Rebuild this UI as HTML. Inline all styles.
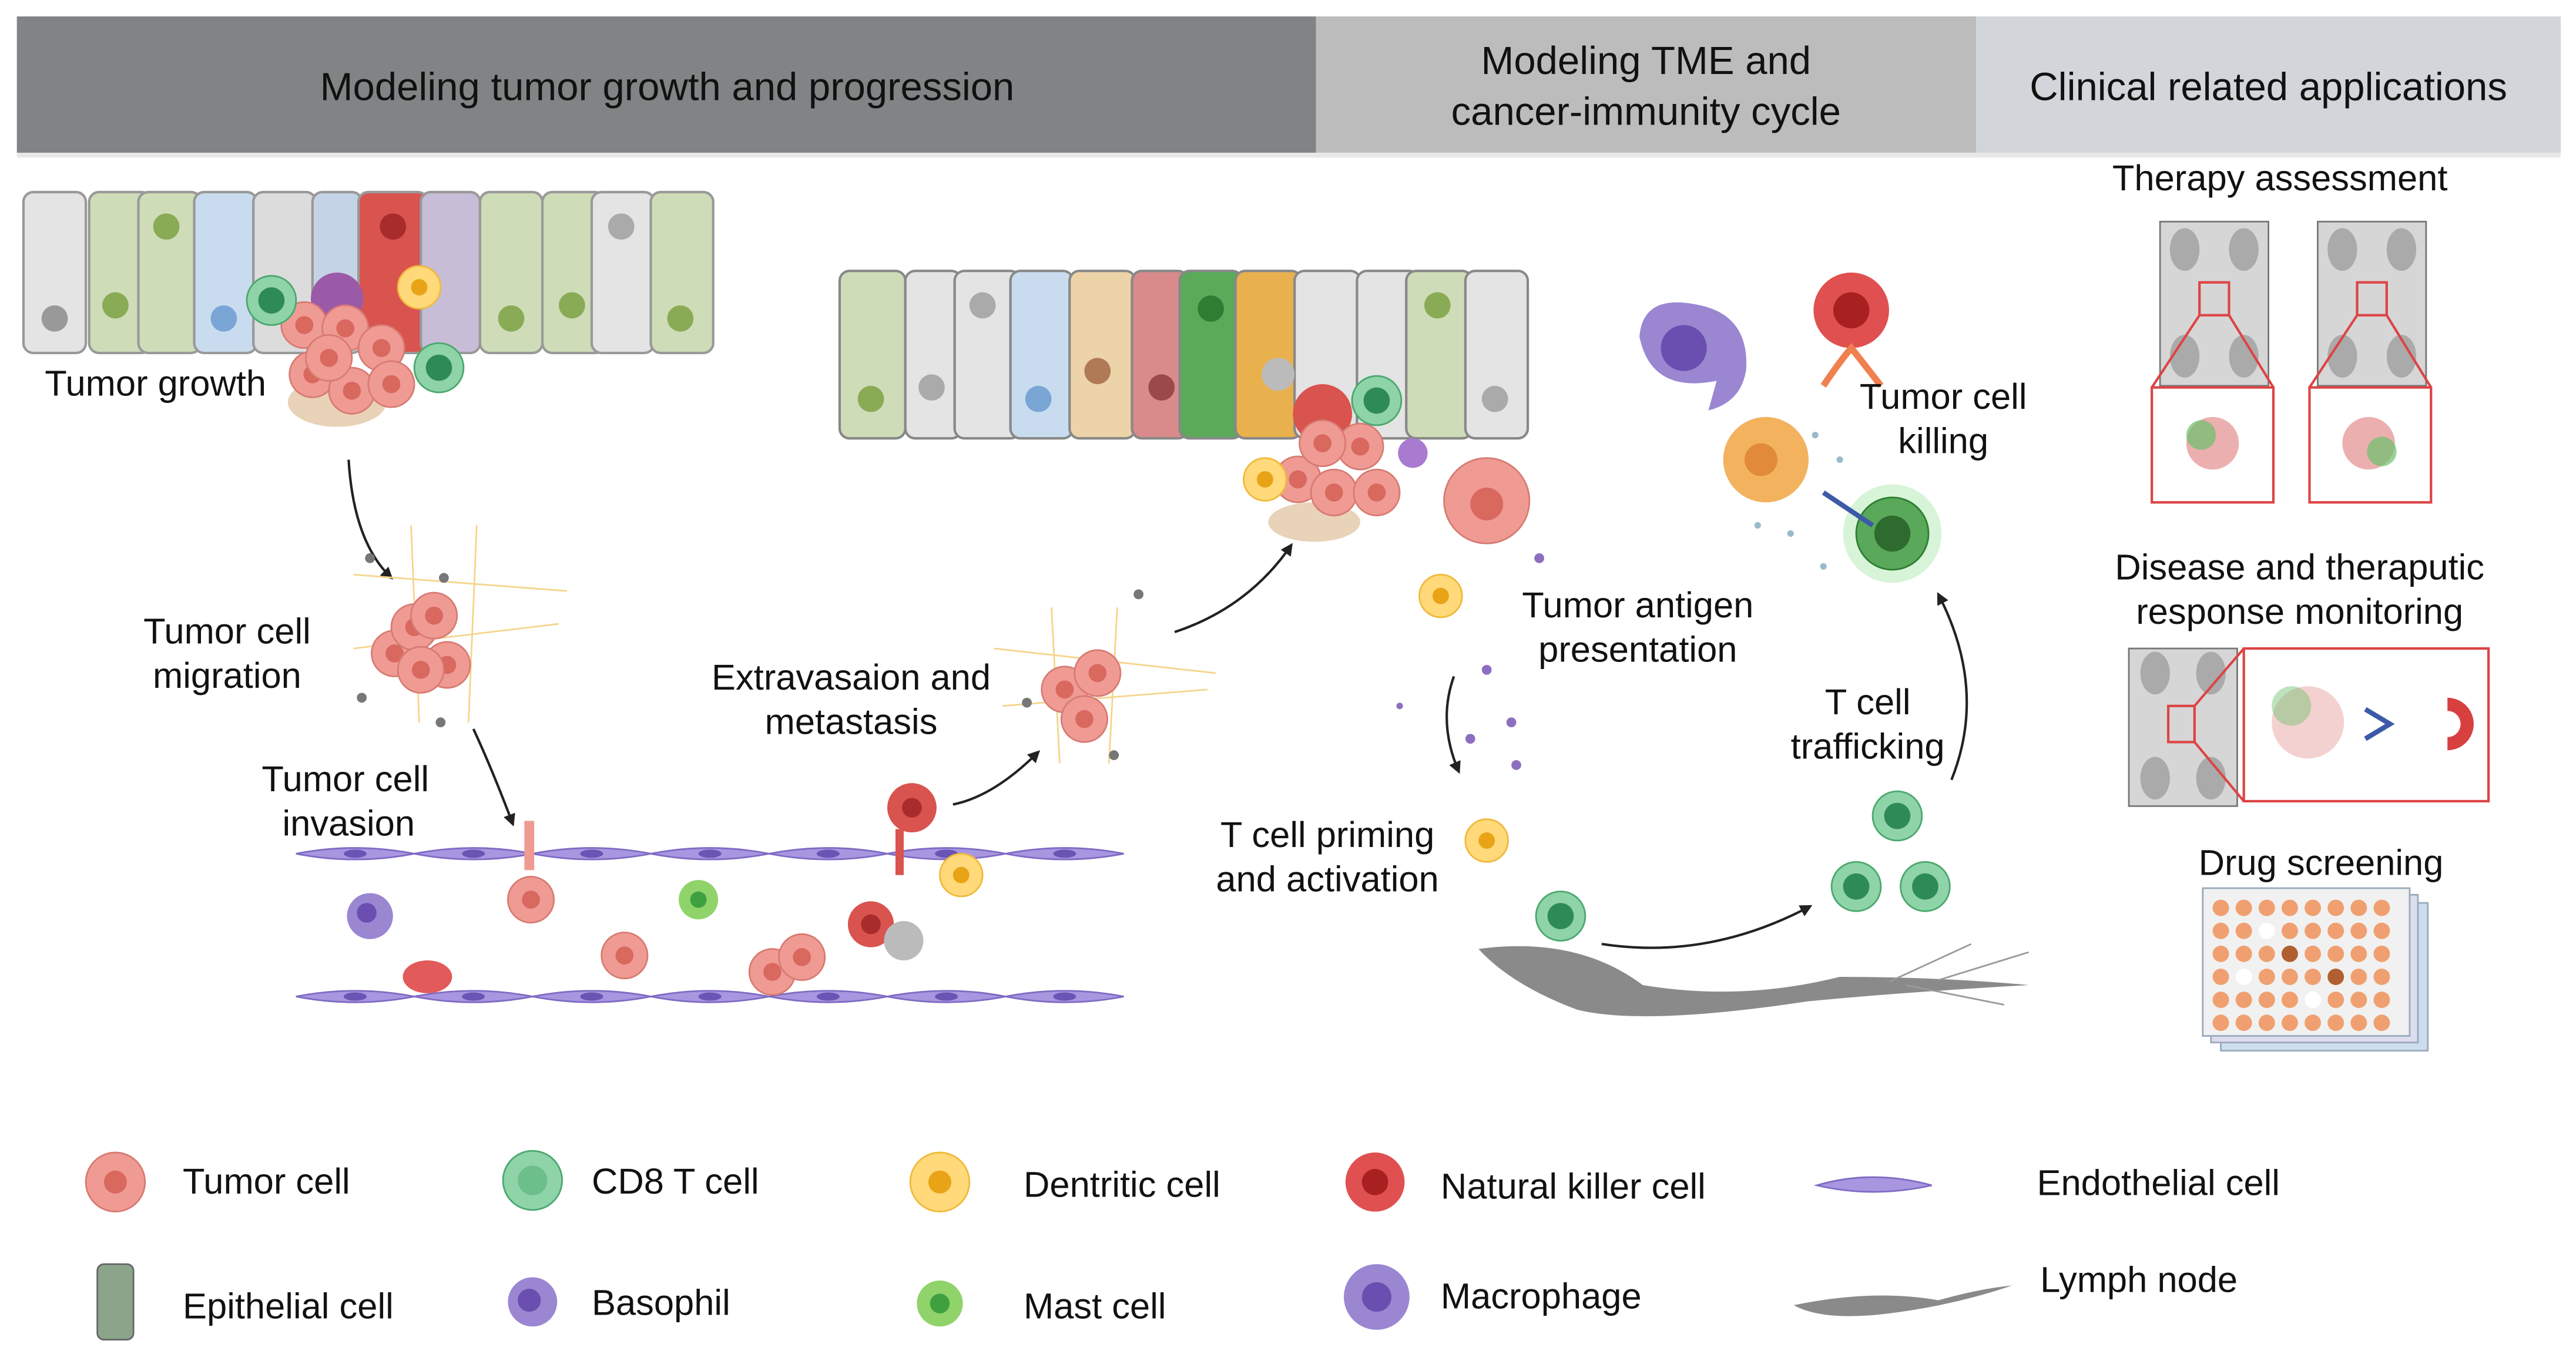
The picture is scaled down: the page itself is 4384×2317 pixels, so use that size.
<!DOCTYPE html>
<html><head><meta charset="utf-8"><style>
html,body{margin:0;padding:0;background:#fff}
svg{display:block}
text{font-family:"Liberation Sans",sans-serif;fill:#111}
</style></head><body>
<svg width="4384" height="2317" viewBox="0 0 1568 829" xmlns="http://www.w3.org/2000/svg">
<defs>
<marker id="ah" viewBox="0 0 10 10" refX="8" refY="5" markerWidth="5" markerHeight="5" orient="auto"><path d="M0,0 L10,5 L0,10 z" fill="#222"/></marker>
<g id="tum"><circle r="14" fill="#ef9b94" stroke="#d77a72" stroke-width="1"/><circle r="5.5" fill="#d9685f"/></g>
<g id="t8"><circle r="15" fill="#8fd3a8" stroke="#4aa86e"/><circle r="8" fill="#2e8b57"/></g>
<g id="dc"><circle r="13" fill="#ffd97a" stroke="#f0b93a"/><circle r="5" fill="#e8a317"/></g>
<g id="endo"><path d="M-36,0 Q0,-7 36,0 Q0,7 -36,0z" fill="#a996e0" stroke="#7e6bc4"/><ellipse rx="7" ry="2.5" fill="#6a55b5"/></g>
</defs>
<!-- header -->
<rect x="10" y="12" width="1549" height="84" fill="#e8e8e8"/>
<rect x="10" y="10" width="791" height="83" fill="#808485"/>
<rect x="801" y="10" width="402" height="83" fill="#bcbcbc"/>
<rect x="1203" y="10" width="356" height="83" fill="#d2d5d9"/>
<text x="406" y="61" font-size="24" text-anchor="middle">Modeling tumor growth and progression</text>
<text x="1002" y="45" font-size="24" text-anchor="middle">Modeling TME and</text>
<text x="1002" y="76" font-size="24" text-anchor="middle">cancer-immunity cycle</text>
<text x="1381" y="61" font-size="24" text-anchor="middle">Clinical related applications</text>

<!-- epithelium left -->
<g stroke="#999" stroke-width="1.5">
<rect x="14" y="117" width="38" height="98" rx="6" fill="#e4e4e4"/>
<rect x="54" y="117" width="38" height="98" rx="6" fill="#cfdcb8"/>
<rect x="84" y="117" width="38" height="98" rx="6" fill="#cfdcb8"/>
<rect x="118" y="117" width="38" height="98" rx="6" fill="#c9dcef"/>
<rect x="154" y="117" width="38" height="98" rx="6" fill="#dcdcdc"/>
<rect x="190" y="117" width="30" height="98" rx="6" fill="#c5d3e6"/>
<rect x="218" y="117" width="42" height="98" rx="6" fill="#d9534f"/>
<rect x="256" y="117" width="36" height="98" rx="6" fill="#c8bdd6"/>
<rect x="292" y="117" width="38" height="98" rx="6" fill="#cfdcb8"/>
<rect x="330" y="117" width="38" height="98" rx="6" fill="#cfdcb8"/>
<rect x="360" y="117" width="38" height="98" rx="6" fill="#e4e4e4"/>
<rect x="396" y="117" width="38" height="98" rx="6" fill="#cfdcb8"/>
</g>
<g fill="#999"><circle cx="33" cy="194" r="8"/><circle cx="70" cy="186" r="8" fill="#8aab55"/><circle cx="101" cy="138" r="8" fill="#8aab55"/><circle cx="136" cy="194" r="8" fill="#7aa6d6"/><circle cx="239" cy="138" r="8" fill="#a82c2c"/><circle cx="311" cy="194" r="8" fill="#8aab55"/><circle cx="348" cy="186" r="8" fill="#8aab55"/><circle cx="378" cy="138" r="8" fill="#aaa"/><circle cx="414" cy="194" r="8" fill="#8aab55"/></g>
<circle cx="205" cy="182" r="16" fill="#9b5aa8"/>
<ellipse cx="205" cy="245" rx="30" ry="15" fill="#e8d2b8"/>
<g><use href="#tum" x="185" y="198"/><use href="#tum" x="210" y="200"/><use href="#tum" x="232" y="212"/><use href="#tum" x="190" y="228"/><use href="#tum" x="214" y="238"/><use href="#tum" x="238" y="234"/><use href="#tum" x="200" y="218"/><use href="#dc" x="255" y="175"/><use href="#t8" x="267" y="224"/><use href="#t8" x="165" y="183"/></g>
<text x="27" y="241" font-size="22">Tumor growth</text>

<!-- left flow -->
<path d="M212,280 Q215,330 238,352" fill="none" stroke="#222" stroke-width="1.5" marker-end="url(#ah)"/>
<g stroke="#f5d58c" stroke-width="1" fill="none"><path d="M215,350 L345,360 M215,395 L340,380 M250,320 L255,440 M290,320 L285,440"/></g>
<use href="#tum" x="240" y="398"/><use href="#tum" x="272" y="405"/><use href="#tum" x="252" y="382"/><use href="#tum" x="264" y="375"/><use href="#tum" x="256" y="408"/>
<g fill="#777"><circle cx="225" cy="340" r="3"/><circle cx="270" cy="352" r="3"/><circle cx="220" cy="425" r="3"/><circle cx="268" cy="440" r="3"/></g>
<text x="138" y="392" font-size="22" text-anchor="middle">Tumor cell</text>
<text x="138" y="419" font-size="22" text-anchor="middle">migration</text>
<path d="M288,444 Q300,470 312,502" fill="none" stroke="#222" stroke-width="1.5" marker-end="url(#ah)"/>
<text x="210" y="482" font-size="22" text-anchor="middle">Tumor cell</text>
<text x="212" y="509" font-size="22" text-anchor="middle">invasion</text>

<!-- vessel -->
<g>
<use href="#endo" x="216" y="520"/><use href="#endo" x="288" y="520"/><use href="#endo" x="360" y="520"/><use href="#endo" x="432" y="520"/><use href="#endo" x="504" y="520"/><use href="#endo" x="576" y="520"/><use href="#endo" x="648" y="520"/>
<use href="#endo" x="216" y="607"/><use href="#endo" x="288" y="607"/><use href="#endo" x="360" y="607"/><use href="#endo" x="432" y="607"/><use href="#endo" x="504" y="607"/><use href="#endo" x="576" y="607"/><use href="#endo" x="648" y="607"/>
</g>
<circle cx="225" cy="558" r="14" fill="#9b86d2"/><circle cx="223" cy="556" r="6" fill="#6a4fb0"/><ellipse cx="260" cy="595" rx="15" ry="10" fill="#e25a5a"/>
<circle cx="425" cy="548" r="12" fill="#8fd36a"/><circle cx="425" cy="548" r="5" fill="#3fa03f"/>
<rect x="319" y="500" width="6" height="30" fill="#ef9b94"/>
<use href="#tum" x="323" y="548"/><use href="#tum" x="380" y="582"/><use href="#tum" x="470" y="592"/><use href="#tum" x="488" y="583"/>
<circle cx="530" cy="563" r="14" fill="#d9534f"/><circle cx="530" cy="563" r="6" fill="#a82c2c"/><circle cx="550" cy="573" r="12" fill="#bbb"/>
<circle cx="555" cy="492" r="15" fill="#d9534f"/><circle cx="555" cy="492" r="6" fill="#a82c2c"/><rect x="545" y="505" width="5" height="28" fill="#d9534f"/><use href="#dc" x="585" y="533"/>
<path d="M580,490 Q605,485 632,458" fill="none" stroke="#222" stroke-width="1.5" marker-end="url(#ah)"/>
<text x="518" y="420" font-size="22" text-anchor="middle">Extravasaion and</text>
<text x="518" y="447" font-size="22" text-anchor="middle">metastasis</text>
<g stroke="#f5d58c" stroke-width="1" fill="none"><path d="M605,395 L740,410 M610,430 L735,420 M640,370 L645,465 M680,370 L675,465"/></g>
<use href="#tum" x="648" y="420"/><use href="#tum" x="668" y="410"/><use href="#tum" x="660" y="438"/>
<g fill="#777"><circle cx="693" cy="362" r="3"/><circle cx="625" cy="428" r="3"/><circle cx="678" cy="460" r="3"/></g>
<path d="M715,385 Q760,370 786,332" fill="none" stroke="#222" stroke-width="1.5" marker-end="url(#ah)"/>

<!-- epithelium middle -->
<g stroke="#888" stroke-width="1.5">
<rect x="511" y="165" width="40" height="102" rx="6" fill="#cfdcb8"/>
<rect x="551" y="165" width="34" height="102" rx="6" fill="#e4e4e4"/>
<rect x="581" y="165" width="40" height="102" rx="6" fill="#e4e4e4"/>
<rect x="615" y="165" width="38" height="102" rx="6" fill="#c9dcef"/>
<rect x="651" y="165" width="40" height="102" rx="6" fill="#ecd3a8"/>
<rect x="689" y="165" width="34" height="102" rx="6" fill="#d98b8b"/>
<rect x="718" y="165" width="38" height="102" rx="6" fill="#5aaa5a"/>
<rect x="752" y="165" width="40" height="102" rx="6" fill="#e9b04e"/>
<rect x="788" y="165" width="40" height="102" rx="6" fill="#e4e4e4"/>
<rect x="826" y="165" width="38" height="102" rx="6" fill="#e4e4e4"/>
<rect x="856" y="165" width="40" height="102" rx="6" fill="#cfdcb8"/>
<rect x="892" y="165" width="38" height="102" rx="6" fill="#e4e4e4"/>
</g>
<g><circle cx="530" cy="243" r="8" fill="#8aab55"/><circle cx="567" cy="236" r="8" fill="#aaa"/><circle cx="598" cy="186" r="8" fill="#aaa"/><circle cx="632" cy="243" r="8" fill="#7aa6d6"/><circle cx="668" cy="226" r="8" fill="#b07a57"/><circle cx="707" cy="236" r="8" fill="#9a4a4a"/><circle cx="737" cy="188" r="8" fill="#2e7d32"/><circle cx="875" cy="186" r="8" fill="#8aab55"/><circle cx="910" cy="243" r="8" fill="#aaa"/></g>
<ellipse cx="800" cy="318" rx="28" ry="12" fill="#e8d2b8"/>
<circle cx="805" cy="252" r="18" fill="#d9534f"/>
<use href="#tum" x="790" y="292"/><use href="#tum" x="812" y="300"/><use href="#tum" x="828" y="272"/><use href="#tum" x="838" y="300"/><use href="#tum" x="805" y="270"/><use href="#dc" x="770" y="292"/><use href="#t8" x="838" y="244"/>
<circle cx="778" cy="228" r="10" fill="#bbb"/><circle cx="860" cy="276" r="9" fill="#a87ad0"/>
<circle cx="905" cy="305" r="26" fill="#ef9b94" stroke="#d77a72"/><circle cx="905" cy="307" r="10" fill="#d9685f"/>
<use href="#dc" x="877" y="363"/>
<g fill="#8c6fc0"><circle cx="905" cy="408" r="3"/><circle cx="920" cy="440" r="3"/><circle cx="895" cy="450" r="3"/><circle cx="923" cy="466" r="3"/><circle cx="937" cy="340" r="3"/><circle cx="852" cy="430" r="2"/></g>
<text x="997" y="376" font-size="22" text-anchor="middle">Tumor antigen</text>
<text x="997" y="403" font-size="22" text-anchor="middle">presentation</text>
<path d="M885,412 Q875,440 888,470" fill="none" stroke="#222" stroke-width="1.5" marker-end="url(#ah)"/>
<use href="#dc" x="905" y="512"/>
<text x="808" y="516" font-size="22" text-anchor="middle">T cell priming</text>
<text x="808" y="543" font-size="22" text-anchor="middle">and activation</text>
<use href="#t8" x="950" y="558"/>
<path d="M900,578 Q960,570 1000,600 Q1060,610 1120,595 Q1180,595 1235,600 Q1150,605 1100,610 Q1000,625 960,615 Q920,600 900,578z" fill="#8a8a8a"/>
<g stroke="#999" stroke-width="1" fill="none"><path d="M1150,598 L1200,575 M1180,597 L1235,580 M1160,600 L1220,612"/></g>
<path d="M975,575 Q1040,585 1102,552" fill="none" stroke="#222" stroke-width="1.5" marker-end="url(#ah)"/>
<use href="#t8" x="1130" y="540"/><use href="#t8" x="1172" y="540"/><use href="#t8" x="1155" y="497"/>
<text x="1137" y="435" font-size="22" text-anchor="middle">T cell</text>
<text x="1137" y="462" font-size="22" text-anchor="middle">trafficking</text>
<path d="M1188,475 Q1210,420 1180,362" fill="none" stroke="#222" stroke-width="1.5" marker-end="url(#ah)"/>
<circle cx="1152" cy="325" r="30" fill="#c8f0c8" opacity="0.7"/>
<circle cx="1152" cy="325" r="22" fill="#5aa85a" stroke="#2e7d32"/><circle cx="1152" cy="325" r="11" fill="#2e6b2e"/>
<path d="M998,205 Q1000,180 1030,185 Q1065,190 1063,225 Q1060,245 1040,250 L1045,232 Q1005,240 998,205z" fill="#9b86d2"/>
<circle cx="1025" cy="212" r="14" fill="#6a4fb0"/>
<circle cx="1127" cy="189" r="23" fill="#e05050"/><circle cx="1127" cy="189" r="11" fill="#a82020"/>
<path d="M1110,235 Q1120,220 1127,212 Q1135,222 1145,235" fill="none" stroke="#f08050" stroke-width="4"/>
<circle cx="1075" cy="280" r="26" fill="#f3b25e"/><circle cx="1072" cy="280" r="10" fill="#e08a3a"/>
<g fill="#9bc"><circle cx="1105" cy="265" r="2"/><circle cx="1120" cy="280" r="2"/><circle cx="1090" cy="325" r="2"/><circle cx="1110" cy="345" r="2"/><circle cx="1070" cy="320" r="2"/></g>
<path d="M1110,300 L1140,320" stroke="#3c5aa8" stroke-width="3"/>
<text x="1183" y="249" font-size="22" text-anchor="middle">Tumor cell</text>
<text x="1183" y="276" font-size="22" text-anchor="middle">killing</text>

<!-- right column -->
<text x="1388" y="116" font-size="22" text-anchor="middle">Therapy assessment</text>
<g fill="#d6d6d6" stroke="#777"><rect x="1315" y="135" width="66" height="100"/><rect x="1411" y="135" width="66" height="100"/></g>
<g fill="#aaa"><ellipse cx="1330" cy="152" rx="9" ry="13"/><ellipse cx="1366" cy="152" rx="9" ry="13"/><ellipse cx="1330" cy="217" rx="9" ry="13"/><ellipse cx="1366" cy="217" rx="9" ry="13"/><ellipse cx="1426" cy="152" rx="9" ry="13"/><ellipse cx="1462" cy="152" rx="9" ry="13"/><ellipse cx="1426" cy="217" rx="9" ry="13"/><ellipse cx="1462" cy="217" rx="9" ry="13"/></g>
<g fill="none" stroke="#d44" stroke-width="1.5"><rect x="1310" y="236" width="74" height="70"/><rect x="1406" y="236" width="74" height="70"/><rect x="1339" y="172" width="18" height="20"/><rect x="1435" y="172" width="18" height="20"/><path d="M1339,192 L1310,236 M1357,192 L1384,236 M1435,192 L1406,236 M1453,192 L1480,236"/></g>
<g><circle cx="1347" cy="270" r="16" fill="#e07a7a" opacity="0.6"/><circle cx="1340" cy="265" r="9" fill="#6cc06c" opacity="0.7"/><circle cx="1442" cy="270" r="16" fill="#e07a7a" opacity="0.6"/><circle cx="1450" cy="275" r="9" fill="#6cc06c" opacity="0.7"/></g>
<text x="1400" y="353" font-size="22" text-anchor="middle">Disease and theraputic</text>
<text x="1400" y="380" font-size="22" text-anchor="middle">response monitoring</text>
<rect x="1296" y="395" width="66" height="96" fill="#d6d6d6" stroke="#777"/>
<g fill="#aaa"><ellipse cx="1312" cy="410" rx="9" ry="13"/><ellipse cx="1346" cy="410" rx="9" ry="13"/><ellipse cx="1312" cy="474" rx="9" ry="13"/><ellipse cx="1346" cy="474" rx="9" ry="13"/></g>
<g fill="none" stroke="#d44" stroke-width="1.5"><rect x="1366" y="395" width="149" height="93"/><rect x="1320" y="430" width="16" height="22"/><path d="M1336,430 L1366,395 M1336,452 L1366,488"/></g>
<g><circle cx="1405" cy="440" r="22" fill="#e07a7a" opacity="0.35"/><circle cx="1395" cy="430" r="12" fill="#6cc06c" opacity="0.45"/></g>
<path d="M1490,425 A16,16 0 1 1 1490,457 L1490,449 A8,8 0 1 0 1490,433z" fill="#d84040"/>
<path d="M1440,432 L1455,441 L1440,450" fill="none" stroke="#3c5aa8" stroke-width="3"/>
<text x="1413" y="533" font-size="22" text-anchor="middle">Drug screening</text>
<rect x="1352" y="550" width="126" height="90" fill="#cde" stroke="#9ab"/>
<rect x="1346" y="545" width="126" height="90" fill="#dde" stroke="#9ab"/>
<rect x="1341" y="541" width="126" height="90" fill="#f1f1f1" stroke="#9ab"/>
<g fill="#f0a070">
<circle cx="1352" cy="553" r="5"/><circle cx="1366" cy="553" r="5"/><circle cx="1380" cy="553" r="5"/><circle cx="1394" cy="553" r="5"/><circle cx="1408" cy="553" r="5"/><circle cx="1422" cy="553" r="5"/><circle cx="1436" cy="553" r="5"/><circle cx="1450" cy="553" r="5"/>
<circle cx="1352" cy="567" r="5"/><circle cx="1366" cy="567" r="5"/><circle cx="1380" cy="567" r="5" fill="#fff"/><circle cx="1394" cy="567" r="5"/><circle cx="1408" cy="567" r="5"/><circle cx="1422" cy="567" r="5"/><circle cx="1436" cy="567" r="5"/><circle cx="1450" cy="567" r="5"/>
<circle cx="1352" cy="581" r="5"/><circle cx="1366" cy="581" r="5"/><circle cx="1380" cy="581" r="5"/><circle cx="1394" cy="581" r="5" fill="#b06030"/><circle cx="1408" cy="581" r="5"/><circle cx="1422" cy="581" r="5"/><circle cx="1436" cy="581" r="5"/><circle cx="1450" cy="581" r="5"/>
<circle cx="1352" cy="595" r="5"/><circle cx="1366" cy="595" r="5" fill="#fff"/><circle cx="1380" cy="595" r="5"/><circle cx="1394" cy="595" r="5"/><circle cx="1408" cy="595" r="5"/><circle cx="1422" cy="595" r="5" fill="#b06030"/><circle cx="1436" cy="595" r="5"/><circle cx="1450" cy="595" r="5"/>
<circle cx="1352" cy="609" r="5"/><circle cx="1366" cy="609" r="5"/><circle cx="1380" cy="609" r="5"/><circle cx="1394" cy="609" r="5"/><circle cx="1408" cy="609" r="5" fill="#fff"/><circle cx="1422" cy="609" r="5"/><circle cx="1436" cy="609" r="5"/><circle cx="1450" cy="609" r="5"/>
<circle cx="1352" cy="623" r="5"/><circle cx="1366" cy="623" r="5"/><circle cx="1380" cy="623" r="5"/><circle cx="1394" cy="623" r="5"/><circle cx="1408" cy="623" r="5"/><circle cx="1422" cy="623" r="5"/><circle cx="1436" cy="623" r="5"/><circle cx="1450" cy="623" r="5"/>
</g>

<!-- legend -->
<g font-size="22">
<circle cx="70" cy="720" r="18" fill="#ef9b94" stroke="#d77a72"/><circle cx="70" cy="720" r="7" fill="#d9685f"/><text x="111" y="727">Tumor cell</text>
<circle cx="324" cy="719" r="18" fill="#8fd3a8" stroke="#4aa86e"/><circle cx="324" cy="719" r="9" fill="#6cbf8a"/><text x="360" y="727">CD8 T cell</text>
<circle cx="572" cy="720" r="18" fill="#ffd97a" stroke="#f0b93a"/><circle cx="572" cy="720" r="7" fill="#e8a317"/><text x="623" y="729">Dentritic cell</text>
<circle cx="837" cy="720" r="18" fill="#e05050"/><circle cx="837" cy="720" r="8" fill="#a82020"/><text x="877" y="730">Natural killer cell</text>
<path d="M1106,722 Q1140,712 1176,722 Q1140,730 1106,722z" fill="#a996e0" stroke="#7e6bc4"/><text x="1240" y="728">Endothelial cell</text>
<rect x="59" y="770" width="22" height="46" rx="4" fill="#8aa58a" stroke="#666"/><text x="111" y="803">Epithelial cell</text>
<circle cx="324" cy="793" r="15" fill="#9b86d2"/><circle cx="322" cy="792" r="7" fill="#6a4fb0"/><text x="360" y="801">Basophil</text>
<circle cx="572" cy="794" r="14" fill="#8fd36a"/><circle cx="572" cy="794" r="6" fill="#3fa03f"/><text x="623" y="803">Mast cell</text>
<circle cx="838" cy="790" r="20" fill="#9b86d2"/><circle cx="838" cy="790" r="9" fill="#6a4fb0"/><text x="877" y="797">Macrophage</text>
<path d="M1092,795 Q1140,785 1180,792 Q1205,785 1225,783 Q1190,795 1150,800 Q1110,805 1092,795z" fill="#8a8a8a"/><text x="1242" y="787">Lymph node</text>
</g>
</svg>
</body></html>
